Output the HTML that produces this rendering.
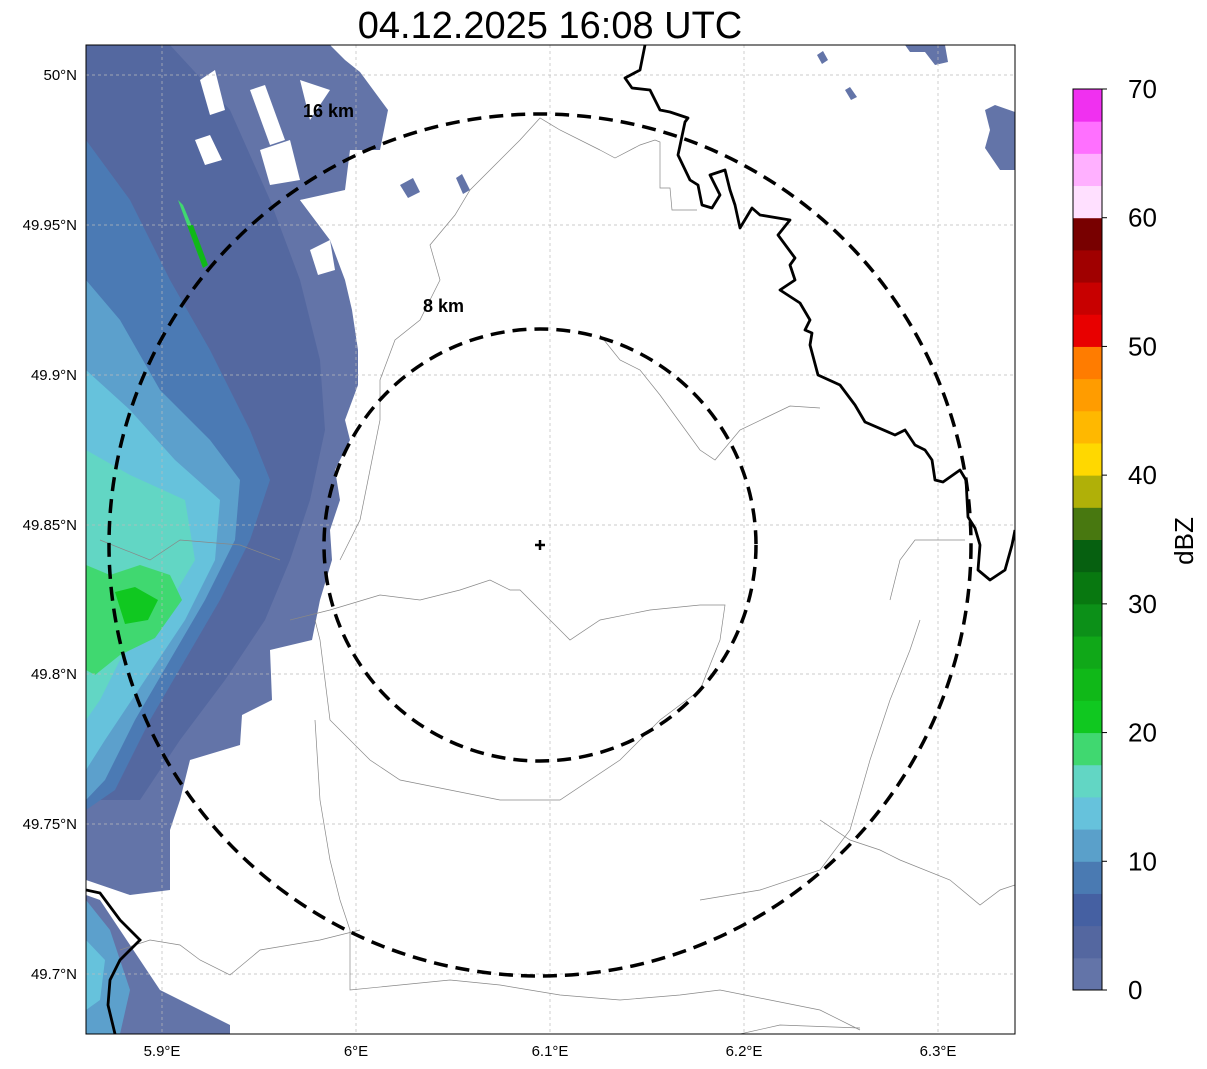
<!DOCTYPE html>
<html><head><meta charset="utf-8"><style>
body{margin:0;background:#fff;}
svg{display:block;font-family:"Liberation Sans","DejaVu Sans",sans-serif;}
</style></head><body>
<svg width="1207" height="1069" viewBox="0 0 1207 1069">
<defs><clipPath id="mapclip"><rect x="86" y="45" width="929" height="989"/></clipPath></defs>
<text x="550" y="38" font-size="38" text-anchor="middle">04.12.2025 16:08 UTC</text>
<g clip-path="url(#mapclip)">
<rect x="86" y="45" width="929" height="989" fill="#fff"/>
<g id="radar">
<polygon fill="#6374a8" points="86,45 330,45 345,60 360,72 388,110 380,150 350,150 345,190 300,200 330,240 345,280 352,310 358,350 358,385 345,420 350,440 335,470 340,500 330,530 332,560 320,600 312,640 270,650 272,700 242,715 240,745 190,760 180,800 170,830 170,890 130,895 86,880"/>
<polygon fill="#5468a0" points="86,45 170,45 230,110 270,200 300,280 320,360 325,430 310,500 290,560 265,620 225,680 180,740 140,800 86,800"/>
<polygon fill="#4b7ab4" points="86,140 130,200 170,280 210,350 250,430 270,480 250,540 220,600 185,660 150,720 115,790 86,810"/>
<polygon fill="#5ca0cc" points="86,280 120,320 160,390 210,440 240,480 235,540 205,600 170,660 135,720 105,780 86,800"/>
<polygon fill="#66c2dc" points="86,370 130,410 175,460 220,500 215,560 185,620 145,680 105,740 86,770"/>
<polygon fill="#62d6c4" points="86,450 130,475 185,500 195,560 165,610 125,650 100,700 86,720"/>
<polygon fill="#40d870" points="86,565 110,575 140,565 170,575 182,600 155,638 120,655 95,675 86,670"/>
<polygon fill="#10c820" points="115,592 135,587 158,600 148,620 125,624"/>
<polygon fill="#40d870" points="178,200 183,205 208,265 203,268"/>
<polygon fill="#10b818" points="187,225 193,225 208,265 203,268"/>
<polygon fill="#6374a8" points="86,895 100,900 120,930 160,990 230,1025 230,1034 86,1034"/>
<polygon fill="#5ca0cc" points="86,900 110,930 130,990 120,1034 86,1034"/>
<polygon fill="#66c2dc" points="86,940 105,960 100,1000 86,1010"/>
<polygon fill="#6374a8" points="400,185 413,178 420,192 408,198"/>
<polygon fill="#6374a8" points="456,178 462,174 470,190 463,194"/>
<polygon fill="#6374a8" points="817,55 823,51 828,60 822,64"/>
<polygon fill="#6374a8" points="845,90 850,87 857,97 851,100"/>
<polygon fill="#6374a8" points="905,45 945,45 948,62 935,65 925,52 910,52"/>
<polygon fill="#6374a8" points="985,110 995,105 1015,112 1015,170 1000,170 985,148 990,130"/>
<g fill="#fff">
<polygon points="200,80 215,70 225,110 210,115"/>
<polygon points="250,90 265,85 285,140 270,145"/>
<polygon points="300,80 330,90 310,120"/>
<polygon points="260,150 290,140 300,180 270,185"/>
<polygon points="195,140 210,135 222,160 205,165"/>
<polygon points="300,200 345,195 330,240"/>
<polygon points="340,200 360,160 385,150 350,200"/>
<polygon points="310,250 330,240 335,270 318,275"/>
</g>
</g>
<g stroke="#bbb" stroke-width="0.7" stroke-dasharray="3,3">
<line x1="162" y1="45" x2="162" y2="1034"/><line x1="356" y1="45" x2="356" y2="1034"/><line x1="550" y1="45" x2="550" y2="1034"/><line x1="744" y1="45" x2="744" y2="1034"/><line x1="938" y1="45" x2="938" y2="1034"/>
<line x1="86" y1="75" x2="1015" y2="75"/><line x1="86" y1="225" x2="1015" y2="225"/><line x1="86" y1="375" x2="1015" y2="375"/><line x1="86" y1="525" x2="1015" y2="525"/><line x1="86" y1="674" x2="1015" y2="674"/><line x1="86" y1="824" x2="1015" y2="824"/><line x1="86" y1="974" x2="1015" y2="974"/>
</g>
<g fill="none" stroke="#888" stroke-width="0.7">
<polyline points="600,150 560,130 540,118 520,140 500,160 470,190 455,215 430,245 440,280 420,320 395,340 380,380 380,420 370,470 360,520 340,560"/>
<polyline points="600,150 615,158 640,145 655,140 660,142 660,188 670,188 672,210 697,210"/>
<polyline points="600,335 620,360 640,370 660,395 700,450 715,460 740,430 790,406 820,408"/>
<polyline points="290,620 330,610 380,595 420,600 460,590 490,580 510,590 520,590 540,610 570,640 600,620 650,610 700,605 725,605 720,640 700,690 660,720 620,760 560,800 500,800 450,790 400,780 370,760 330,720 320,640 315,620"/>
<polyline points="315,720 320,800 330,860 340,900 350,930 350,990 400,985 450,980 500,985 560,995 620,1000 680,995 720,990 770,1000 820,1010 860,1030"/>
<polyline points="890,600 900,560 915,540 965,540"/>
<polyline points="740,1034 780,1025 860,1028"/>
<polyline points="120,950 150,940 180,945 200,960 230,975 260,950 290,945 320,940 360,930"/>
<polyline points="820,820 850,840 880,850 900,860 950,880 980,905 1000,890 1015,885"/>
<polyline points="700,900 760,890 820,870 850,830 870,760 890,700 910,650 920,620"/>
<polyline points="100,540 150,560 180,540 240,545 280,560"/>
</g>
<polyline fill="none" stroke="#000" stroke-width="2.8" stroke-linejoin="round" points="645,45 640,70 625,78 632,88 650,90 660,110 670,112 688,118 685,122 678,155 690,180 698,185 702,205 712,208 720,195 710,175 725,170 730,190 735,205 740,228 752,208 760,215 790,220 778,235 795,258 790,265 795,280 780,290 800,303 810,320 805,330 812,333 810,345 818,375 840,385 855,405 865,422 895,435 905,430 915,445 925,450 932,460 935,480 943,482 960,470 966,480 968,517 975,528 980,545 978,570 990,580 1005,570 1012,545 1015,530"/>
<polyline fill="none" stroke="#000" stroke-width="2.8" points="86,890 100,893 120,920 140,940 120,960 110,980 108,1005 115,1034"/>
<circle cx="540" cy="545" r="431" fill="none" stroke="#000" stroke-width="3.5" stroke-dasharray="14,8"/>
<circle cx="540" cy="545" r="216" fill="none" stroke="#000" stroke-width="3.5" stroke-dasharray="14,8"/>
<path d="M535,545 H545 M540,540 V550" stroke="#000" stroke-width="2.5"/>
<text x="303" y="117" font-size="18" font-weight="bold">16 km</text>
<text x="423" y="312" font-size="18" font-weight="bold">8 km</text>
</g>
<rect x="86" y="45" width="929" height="989" fill="none" stroke="#000" stroke-width="1"/>
<g font-size="15" text-anchor="end">
<text x="77" y="80">50°N</text><text x="77" y="230">49.95°N</text><text x="77" y="380">49.9°N</text><text x="77" y="530">49.85°N</text><text x="77" y="679">49.8°N</text><text x="77" y="829">49.75°N</text><text x="77" y="979">49.7°N</text>
</g>
<g font-size="15" text-anchor="middle">
<text x="162" y="1056">5.9°E</text><text x="356" y="1056">6°E</text><text x="550" y="1056">6.1°E</text><text x="744" y="1056">6.2°E</text><text x="938" y="1056">6.3°E</text>
</g>
<g id="cbar"></g>
<text transform="translate(1193,541) rotate(-90)" font-size="26" text-anchor="middle">dBZ</text>
</svg>
<script>
const cbColors=["#6374a8","#5467a0","#4560a2","#4a7ab2","#5aa0ca","#66c2dc","#62d6c4","#40d870","#10c820","#10b818","#10a818","#0c9018","#087810","#066010","#487810","#b0b008","#ffd800","#ffb800","#ff9c00","#ff7c00","#e80000","#c80000","#a00000","#780000","#ffe0ff","#ffb0ff","#ff70ff","#f030f0"];
const cbTicks=[0,10,20,30,40,50,60,70];
(function(){
const g=document.getElementById('cbar');
const NS="http://www.w3.org/2000/svg";
const yTop=89,yBot=990,x0=1073,w=29,vmax=70;
const ys=v=>yBot-(yBot-yTop)*v/vmax;
const step=vmax/cbColors.length;
cbColors.forEach((c,i)=>{
const r=document.createElementNS(NS,'rect');
r.setAttribute('x',x0);r.setAttribute('width',w);
r.setAttribute('y',ys((i+1)*step));r.setAttribute('height',ys(i*step)-ys((i+1)*step)+0.5);
r.setAttribute('fill',c);


g.appendChild(r);});
const fr=document.createElementNS(NS,'rect');
fr.setAttribute('x',x0);fr.setAttribute('y',yTop);fr.setAttribute('width',w);fr.setAttribute('height',yBot-yTop);
fr.setAttribute('fill','none');fr.setAttribute('stroke','#000');


g.appendChild(fr);
cbTicks.forEach(v=>{
const l=document.createElementNS(NS,'line');
l.setAttribute('x1',x0+w);l.setAttribute('x2',x0+w+5);l.setAttribute('y1',ys(v));l.setAttribute('y2',ys(v));l.setAttribute('stroke','#000');


g.appendChild(l);
const t=document.createElementNS(NS,'text');
t.setAttribute('x',x0+w+26);t.setAttribute('y',ys(v)+9);t.setAttribute('font-size','26');
t.textContent=v;


g.appendChild(t);});
})();
</script>
</body></html>
